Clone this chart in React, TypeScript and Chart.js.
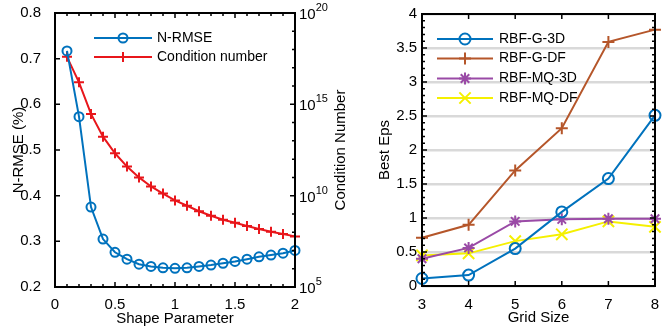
import React, { useEffect, useRef } from 'react';
import { Chart, registerables } from 'chart.js';

Chart.register(...registerables);

// ---------- data ----------
const shapeParam = [0.1, 0.2, 0.3, 0.4, 0.5, 0.6, 0.7, 0.8, 0.9, 1.0, 1.1, 1.2, 1.3, 1.4, 1.5, 1.6, 1.7, 1.8, 1.9, 2.0];
const nrmse = [0.717, 0.573, 0.375, 0.305, 0.276, 0.261, 0.25, 0.245, 0.242, 0.241, 0.242, 0.245, 0.248, 0.252, 0.256, 0.261, 0.266, 0.27, 0.274, 0.28];
const condNumber = [4e17, 1.6e16, 3e14, 1.7e13, 2.1e12, 3.9e11, 1.0e11, 3.2e10, 1.3e10, 5.5e9, 2.8e9, 1.4e9, 7.9e8, 4.8e8, 3.3e8, 2.2e8, 1.5e8, 1.05e8, 7.9e7, 5.9e7];
const condTickExponents = [5, 10, 15, 20];

const gridSize = [3, 4, 5, 6, 7, 8];
const rbfG3D = [0.11, 0.16, 0.55, 1.09, 1.58, 2.51];
const rbfGDF = [0.71, 0.9, 1.7, 2.32, 3.59, 3.77];
const rbfMQ3D = [0.4, 0.56, 0.95, 0.98, 0.99, 0.99];
const rbfMQDF = [0.45, 0.48, 0.66, 0.76, 0.95, 0.87];

const FONT = '"Liberation Sans", Arial, Helvetica, sans-serif';
Chart.defaults.font.family = FONT;
Chart.defaults.color = '#000';

type Side = 'left' | 'right' | 'top' | 'bottom';
interface TickSet { scale: string; sides: Side[]; values: number[]; len: number }
interface FrameSpec {
  ticks: TickSet[];
  legend: { x0: number; x1: number; textX: number; ys: number[]; font: string };
  extra?: (chart: any) => void;
}

function range(a: number, b: number, step: number) {
  const out: number[] = [];
  const n = Math.round((b - a) / step);
  for (let i = 0; i <= n; i++) out.push(Math.round((a + i * step) * 1e6) / 1e6);
  return out;
}

function drawMarker(ctx: CanvasRenderingContext2D, style: string, x: number, y: number, r: number, color: string, lw: number) {
  ctx.save();
  ctx.strokeStyle = color;
  ctx.lineWidth = lw;
  ctx.beginPath();
  const d = r * Math.SQRT1_2;
  if (style === 'circle') ctx.arc(x, y, r, 0, Math.PI * 2);
  if (style === 'cross' || style === 'star') {
    ctx.moveTo(x - r, y); ctx.lineTo(x + r, y);
    ctx.moveTo(x, y - r); ctx.lineTo(x, y + r);
  }
  if (style === 'crossRot' || style === 'star') {
    ctx.moveTo(x - d, y - d); ctx.lineTo(x + d, y + d);
    ctx.moveTo(x - d, y + d); ctx.lineTo(x + d, y - d);
  }
  ctx.stroke();
  ctx.restore();
}

function makeFramePlugin(spec: FrameSpec) {
  return {
    id: 'matlabFrame',
    beforeDatasetsDraw(chart: any) {
      const ctx: CanvasRenderingContext2D = chart.ctx;
      const { x0, x1, textX, ys, font } = spec.legend;
      chart.data.datasets.forEach((ds: any, i: number) => {
        const y = ys[i];
        ctx.save();
        ctx.strokeStyle = ds.borderColor;
        ctx.lineWidth = ds.borderWidth;
        ctx.beginPath();
        ctx.moveTo(x0, y);
        ctx.lineTo(x1, y);
        ctx.stroke();
        ctx.restore();
        drawMarker(ctx, ds.pointStyle, (x0 + x1) / 2, y, ds.pointRadius, ds.borderColor, ds.pointBorderWidth);
        ctx.save();
        ctx.fillStyle = '#000';
        ctx.font = font;
        ctx.textAlign = 'left';
        ctx.textBaseline = 'middle';
        ctx.fillText(ds.label, textX, y);
        ctx.restore();
      });
    },
    afterDatasetsDraw(chart: any) {
      const ctx: CanvasRenderingContext2D = chart.ctx;
      const { left, right, top, bottom } = chart.chartArea;
      ctx.save();
      ctx.strokeStyle = '#000';
      ctx.lineWidth = 1.5;
      ctx.beginPath();
      spec.ticks.forEach((t) => {
        const sc = chart.scales[t.scale];
        t.values.forEach((v) => {
          const p = sc.getPixelForValue(v);
          t.sides.forEach((s) => {
            if (s === 'left') { ctx.moveTo(left, p); ctx.lineTo(left + t.len, p); }
            if (s === 'right') { ctx.moveTo(right, p); ctx.lineTo(right - t.len, p); }
            if (s === 'bottom') { ctx.moveTo(p, bottom); ctx.lineTo(p, bottom - t.len); }
            if (s === 'top') { ctx.moveTo(p, top); ctx.lineTo(p, top + t.len); }
          });
        });
      });
      ctx.stroke();
      ctx.lineWidth = 2;
      ctx.strokeRect(left, top, right - left, bottom - top);
      ctx.restore();
      if (spec.extra) spec.extra(chart);
    },
  };
}

const fixAxis = (size: number, horizontal: boolean) => (scale: any) => {
  if (horizontal) {
    scale.height = size;
    scale.paddingLeft = 0;
    scale.paddingRight = 0;
  } else {
    scale.width = size;
    scale.paddingTop = 0;
    scale.paddingBottom = 0;
  }
};

const numLabel = (v: any) => String(Math.round(Number(v) * 100) / 100);

function LeftChart() {
  const ref = useRef<HTMLCanvasElement>(null);
  useEffect(() => {
    const blue = '#0072BD';
    const red = '#E8161B';
    const plugin = makeFramePlugin({
      ticks: [
        { scale: 'x', sides: ['bottom', 'top'], values: range(0, 2, 0.1), len: 3 },
        { scale: 'x', sides: ['bottom', 'top'], values: range(0, 2, 0.5), len: 5 },
        { scale: 'y', sides: ['left'], values: range(0.2, 0.8, 0.1), len: 5 },
        { scale: 'yCond', sides: ['right'], values: range(5, 20, 1).map((e) => Math.pow(10, e)), len: 3 },
        { scale: 'yCond', sides: ['right'], values: condTickExponents.map((e) => Math.pow(10, e)), len: 5 },
      ],
      legend: { x0: 94, x1: 152, textX: 157, ys: [38, 57], font: `14px ${FONT}` },
      extra: (chart: any) => {
        const ctx: CanvasRenderingContext2D = chart.ctx;
        const sc = chart.scales.yCond;
        const { right, top, bottom } = chart.chartArea;
        ctx.save();
        ctx.fillStyle = '#000';
        ctx.textAlign = 'left';
        ctx.textBaseline = 'middle';
        condTickExponents.forEach((e) => {
          const y = sc.getPixelForValue(Math.pow(10, e));
          ctx.font = `15px ${FONT}`;
          const x = right + 4;
          ctx.fillText('10', x, y + 2);
          const w = ctx.measureText('10').width;
          ctx.font = `11px ${FONT}`;
          ctx.fillText(String(e), x + w, y - 5);
        });
        ctx.font = `15px ${FONT}`;
        ctx.textAlign = 'center';
        ctx.translate(341, (top + bottom) / 2);
        ctx.rotate(-Math.PI / 2);
        ctx.fillText('Condition Number', 0, 0);
        ctx.restore();
      },
    });
    const chart = new Chart(ref.current as HTMLCanvasElement, {
      type: 'line',
      data: {
        datasets: [
          {
            label: 'N-RMSE',
            data: shapeParam.map((x, i) => ({ x, y: nrmse[i] })),
            borderColor: blue,
            backgroundColor: 'rgba(0,0,0,0)',
            borderWidth: 2,
            pointStyle: 'circle',
            pointRadius: 4.5,
            pointBorderWidth: 2,
            pointBackgroundColor: 'rgba(0,0,0,0)',
            xAxisID: 'x',
            yAxisID: 'y',
            clip: false as any,
          },
          {
            label: 'Condition number',
            data: shapeParam.map((x, i) => ({ x, y: condNumber[i] })),
            borderColor: red,
            backgroundColor: 'rgba(0,0,0,0)',
            borderWidth: 2,
            pointStyle: 'cross',
            pointRadius: 5,
            pointBorderWidth: 2,
            xAxisID: 'x',
            yAxisID: 'yCond',
            clip: false as any,
          },
        ],
      },
      options: {
        animation: false,
        responsive: false,
        layout: { padding: { top: 13, left: 0, right: 0, bottom: 0 } },
        plugins: { legend: { display: false }, tooltip: { enabled: false } },
        scales: {
          x: {
            type: 'linear',
            min: 0,
            max: 2,
            grid: { display: false },
            border: { display: false },
            ticks: { stepSize: 0.5, font: { size: 15 }, padding: 1, color: '#000', callback: numLabel, maxRotation: 0 },
            title: { display: true, text: 'Shape Parameter', font: { size: 15 }, color: '#000', padding: { top: 0, bottom: 1 } },
            afterFit: fixAxis(42, true),
          },
          y: {
            type: 'linear',
            position: 'left',
            min: 0.2,
            max: 0.8,
            grid: { display: false },
            border: { display: false },
            ticks: { stepSize: 0.1, font: { size: 15 }, padding: 6, color: '#000', callback: numLabel },
            title: { display: true, text: 'N-RMSE (%)', font: { size: 15 }, color: '#000', padding: { top: 10, bottom: 0 } },
            afterFit: fixAxis(55, false),
          },
          yCond: {
            type: 'logarithmic',
            position: 'right',
            min: 1e5,
            max: 1e20,
            grid: { display: false },
            border: { display: false },
            ticks: { display: false },
            afterFit: fixAxis(65, false),
          },
        },
      } as any,
      plugins: [plugin as any],
    });
    return () => chart.destroy();
  }, []);
  return <canvas ref={ref} width={360} height={329} style={{ position: 'absolute', left: 0, top: 0 }} />;
}

function RightChart() {
  const ref = useRef<HTMLCanvasElement>(null);
  useEffect(() => {
    const plugin = makeFramePlugin({
      ticks: [
        { scale: 'x', sides: ['bottom', 'top'], values: gridSize, len: 5 },
        { scale: 'y', sides: ['left', 'right'], values: range(0, 4, 0.1), len: 3 },
        { scale: 'y', sides: ['left', 'right'], values: range(0, 4, 0.5), len: 5 },
      ],
      legend: { x0: 77, x1: 133, textX: 139, ys: [39, 58.5, 78.5, 98], font: `14px ${FONT}` },
    });
    const mk = (label: string, vals: number[], color: string, style: string, r: number) => ({
      label,
      data: gridSize.map((x, i) => ({ x, y: vals[i] })),
      borderColor: color,
      backgroundColor: 'rgba(0,0,0,0)',
      borderWidth: 2,
      pointStyle: style,
      pointRadius: r,
      pointBorderWidth: 2,
      pointBackgroundColor: 'rgba(0,0,0,0)',
      clip: false as any,
    });
    const chart = new Chart(ref.current as HTMLCanvasElement, {
      type: 'line',
      data: {
        datasets: [
          mk('RBF-G-3D', rbfG3D, '#0072BD', 'circle', 5.5),
          mk('RBF-G-DF', rbfGDF, '#B5562A', 'cross', 6),
          mk('RBF-MQ-3D', rbfMQ3D, '#9A4AA6', 'star', 6),
          mk('RBF-MQ-DF', rbfMQDF, '#F5F000', 'crossRot', 8),
        ],
      },
      options: {
        animation: false,
        responsive: false,
        layout: { padding: { top: 14, left: 0, right: 5, bottom: 0 } },
        plugins: { legend: { display: false }, tooltip: { enabled: false } },
        scales: {
          x: {
            type: 'linear',
            min: 3,
            max: 8,
            grid: { display: false },
            border: { display: false },
            ticks: { stepSize: 1, font: { size: 15 }, padding: 2, color: '#000', callback: numLabel, maxRotation: 0 },
            title: { display: true, text: 'Grid Size', font: { size: 15 }, color: '#000', padding: { top: 0, bottom: 2 } },
            afterFit: fixAxis(43, true),
          },
          y: {
            type: 'linear',
            position: 'left',
            min: 0,
            max: 4,
            grid: { display: true, color: '#d9d9d9', lineWidth: 2.5, drawTicks: false },
            border: { display: false },
            ticks: { stepSize: 0.5, font: { size: 15 }, padding: 5, color: '#000', callback: numLabel },
            title: { display: true, text: 'Best Eps', font: { size: 15 }, color: '#000', padding: { top: 16, bottom: 0 } },
            afterFit: fixAxis(62, false),
          },
        },
      } as any,
      plugins: [plugin as any],
    });
    return () => chart.destroy();
  }, []);
  return <canvas ref={ref} width={305} height={329} style={{ position: 'absolute', left: 360, top: 0 }} />;
}

export default function App() {
  return (
    <div style={{ position: 'fixed', left: 0, top: 0, width: 665, height: 329, background: '#fff', overflow: 'hidden' }}>
      <LeftChart />
      <RightChart />
    </div>
  );
}
